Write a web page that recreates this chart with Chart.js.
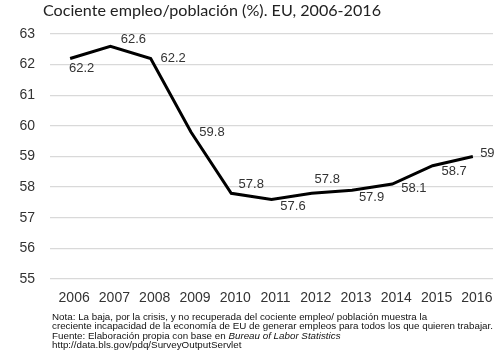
<!DOCTYPE html>
<html>
<head>
<meta charset="utf-8">
<script src="https://cdn.jsdelivr.net/npm/chart.js@4.4.1/dist/chart.umd.min.js"></script>
<style>
  html, body { margin:0; padding:0; background:#fff; }
  canvas { display:block; }
</style>
</head>
<body>
<canvas id="c" width="500" height="362"></canvas>
<script>
const titleText = 'Cociente empleo/población (%). EU, 2006-2016';
const years = ['2006','2007','2008','2009','2010','2011','2012','2013','2014','2015','2016'];
const ratio = [62.2, 62.6, 62.2, 59.8, 57.8, 57.6, 57.8, 57.9, 58.1, 58.7, 59.0];
const pointLabels = ['62.2','62.6','62.2','59.8','57.8','57.6','57.8','57.9','58.1','58.7','59'];
const yTicks = [55, 56, 57, 58, 59, 60, 61, 62, 63];
const noteLines = [
  [['Nota: La baja, por la crisis, y no recuperada del cociente empleo/ población muestra la', false]],
  [['creciente incapacidad de la economía de EU de generar empleos para todos los que quieren trabajar.', false]],
  [['Fuente: Elaboración propia con base en ', false], ['Bureau of Labor Statistics', true]],
  [['http://data.bls.gov/pdq/SurveyOutputServlet', false]]
];

// label offsets (dx, dy) from each point — styling only
const labelOffsets = [[11.5,10],[23,-7],[22.5,0],[21,0],[20,-9],[21.5,7.5],[15.5,-14],[19.5,7.5],[21.5,4],[21.5,6],[14.5,-3.5]];

const labelPlugin = {
  id: 'pointLabels',
  afterDatasetsDraw(chart) {
    const ctx = chart.ctx;
    const meta = chart.getDatasetMeta(0);
    ctx.save();
    ctx.font = '13px "Liberation Sans", Arial, sans-serif';
    ctx.fillStyle = '#333';
    ctx.textAlign = 'center';
    ctx.textBaseline = 'middle';
    meta.data.forEach((pt, i) => {
      const o = labelOffsets[i];
      ctx.fillText(pointLabels[i], pt.x + o[0], pt.y + o[1]);
    });
    ctx.restore();
  }
};

const textPlugin = {
  id: 'texts',
  afterDraw(chart) {
    const ctx = chart.ctx;
    ctx.save();
    // title
    ctx.font = '16px Lato, "Open Sans", sans-serif';
    ctx.fillStyle = '#222';
    ctx.textBaseline = 'alphabetic';
    ctx.textAlign = 'left';
    const tw = ctx.measureText(titleText).width;
    ctx.save();
    ctx.translate(43, 16);
    ctx.scale(338 / tw, 1);
    ctx.fillText(titleText, 0, 0);
    ctx.restore();

    // notes
    const normal = '9.3px "Liberation Sans", Arial, sans-serif';
    const italic = 'italic 9.3px "Liberation Sans", Arial, sans-serif';
    const widthOf = (line) => line.reduce((w, [t, it]) => { ctx.font = it ? italic : normal; return w + ctx.measureText(t).width; }, 0);
    const sx = 441 / widthOf(noteLines[1]);
    ctx.fillStyle = '#111';
    const baselines = [320, 329.3, 338.6, 347.9];
    noteLines.forEach((line, i) => {
      ctx.save();
      ctx.translate(52, baselines[i]);
      ctx.scale(sx, 1);
      let x = 0;
      line.forEach(([t, it]) => {
        ctx.font = it ? italic : normal;
        ctx.fillText(t, x, 0);
        x += ctx.measureText(t).width;
      });
      ctx.restore();
    });
    ctx.restore();
  }
};

new Chart(document.getElementById('c'), {
  type: 'line',
  data: {
    labels: years,
    datasets: [{
      data: ratio,
      borderColor: '#000',
      borderWidth: 3,
      pointRadius: 0,
      tension: 0,
      fill: false
    }]
  },
  options: {
    responsive: false,
    animation: false,
    layout: { padding: { top: 34, right: 7, left: 0, bottom: 52 } },
    plugins: { legend: { display: false }, tooltip: { enabled: false }, title: { display: false } },
    scales: {
      x: {
        offset: true,
        grid: { display: false, drawTicks: false },
        border: { display: false },
        ticks: { color: '#333', font: { family: '"Liberation Sans", Arial, sans-serif', size: 14 }, padding: 11, maxRotation: 0, labelOffset: 4 },
        afterFit(s) { s.height = 31; }
      },
      y: {
        min: 55, max: 63,
        afterBuildTicks(s) { s.ticks = yTicks.map(v => ({ value: v })); },
        grid: { color: '#d9d9d9', lineWidth: 1.3, drawTicks: false },
        border: { display: false },
        ticks: { color: '#333', font: { family: '"Liberation Sans", Arial, sans-serif', size: 14 }, padding: 15 },
        afterFit(s) { s.width = 50; }
      }
    }
  },
  plugins: [labelPlugin, textPlugin]
});
</script>
</body>
</html>
